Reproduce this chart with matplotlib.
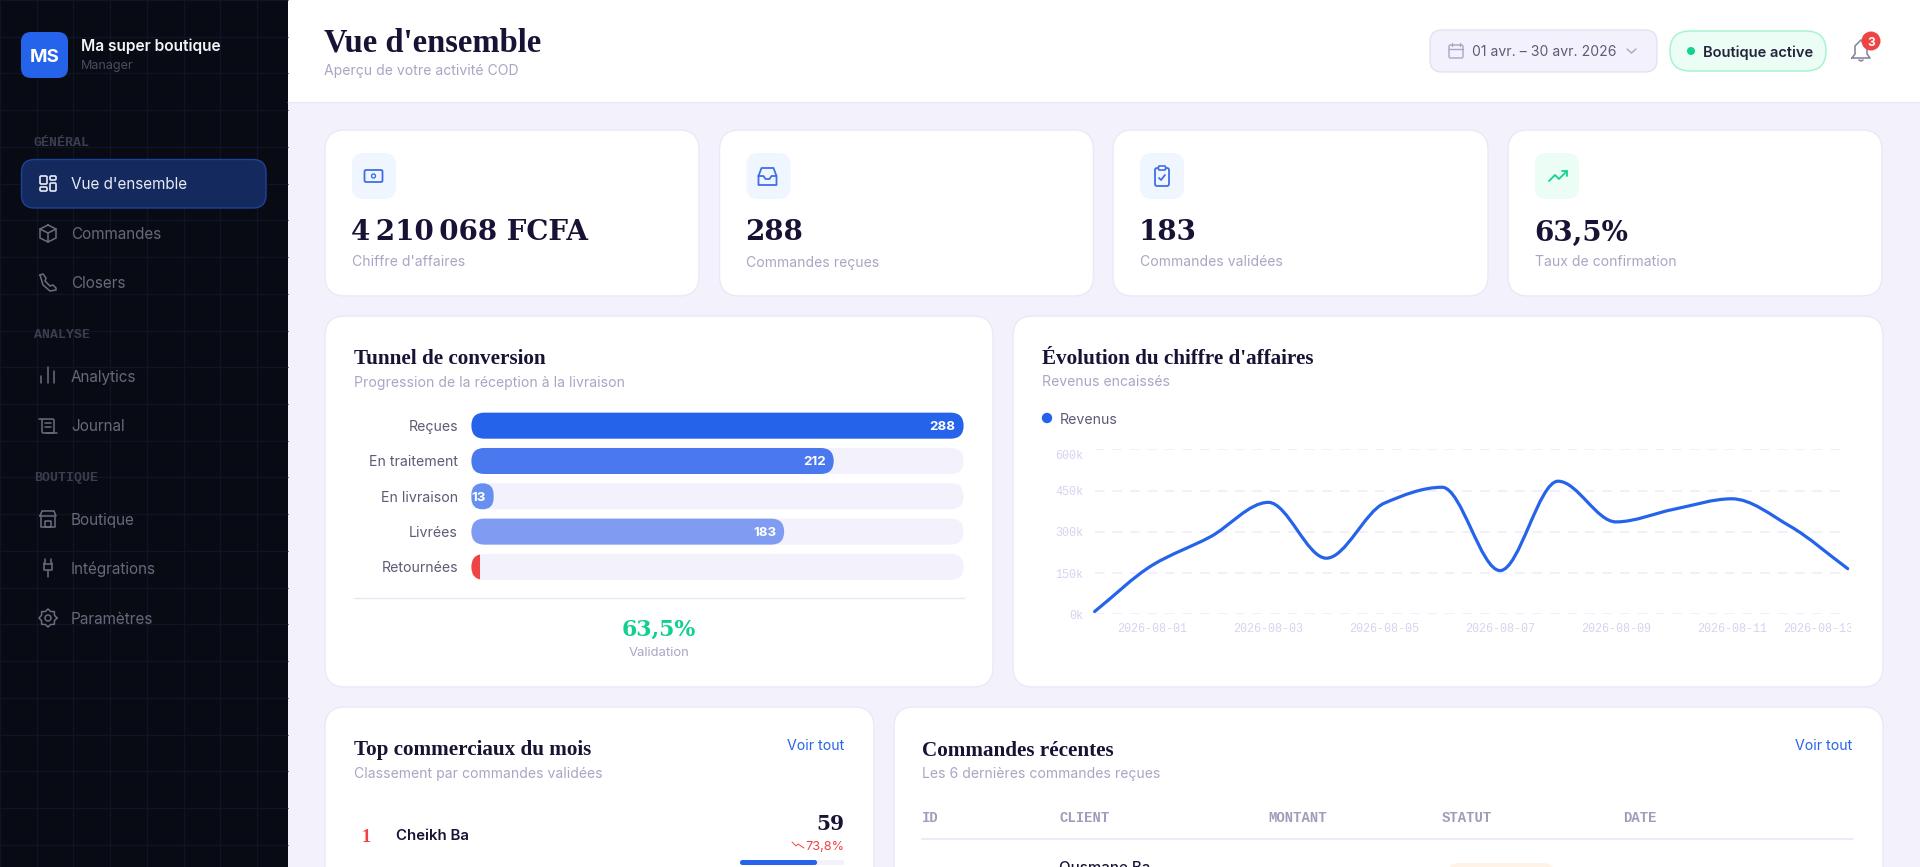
import matplotlib
matplotlib.use("Agg")
import matplotlib.pyplot as plt
import numpy as np
from matplotlib.patches import Circle, FancyBboxPatch, PathPatch, Rectangle
from matplotlib.path import Path
from matplotlib.transforms import Bbox, ScaledTranslation

W, H = 1920, 867

BODY = "Inter"
SERIF = "DejaVu Serif"
HEAD = "Liberation Serif"
MONO = "Liberation Mono"

INK = "#1a1235"
MUTED = "#a9a6c4"
BLUE = "#2563eb"
BORDER = "#eae8f6"
PAGE = "#f3f2fc"

# nav
nav_sections = ["GÉNÉRAL", "ANALYSE", "BOUTIQUE"]
nav_items = ["Vue d'ensemble", "Commandes", "Closers", "Analytics", "Journal",
             "Boutique", "Intégrations", "Paramètres"]

# kpi cards
kpi_values = ["4\u2009210\u2009068 FCFA", "288", "183", "63,5%"]
kpi_labels = ["Chiffre d'affaires", "Commandes reçues", "Commandes validées", "Taux de confirmation"]

# funnel
funnel_labels = ["Reçues", "En traitement", "En livraison", "Livrées", "Retournées"]
funnel_values = [288, 212, 13, 183, 5]
funnel_colors = ["#2563eb", "#4a78ee", "#6690f0", "#7f9cf2", "#ef4444"]

# revenue line
revenue_dates = ["2026-07-31", "2026-08-01", "2026-08-02", "2026-08-03", "2026-08-04",
                 "2026-08-05", "2026-08-06", "2026-08-07", "2026-08-08", "2026-08-09",
                 "2026-08-10", "2026-08-11", "2026-08-12", "2026-08-13"]
revenue_k = [10, 179, 282, 407, 204, 404, 462, 159, 484, 336, 382, 420, 321, 166]
revenue_ticks = [0, 150, 300, 450, 600]
date_tick_days = [1, 3, 5, 7, 9, 11, 13]

# bottom tables
table_headers = ["ID", "CLIENT", "MONTANT", "STATUT", "DATE"]
top_name = "Cheikh Ba"
top_count = 59
top_rate = 73.8

fig = plt.figure(figsize=(W / 100, H / 100), dpi=100, facecolor=PAGE)
ui = fig.add_axes([0, 0, 1, 1])
ui.set_xlim(0, W)
ui.set_ylim(H, 0)
ui.axis("off")


def box(x0, y0, x1, y1, r, fc, ec="none", lw=1.0, z=2):
    p = FancyBboxPatch((x0, y0), x1 - x0, y1 - y0, boxstyle=f"round,pad=0,rounding_size={r}",
                       fc=fc, ec=ec, lw=lw, zorder=z)
    ui.add_patch(p)
    return p


def label(x, y, s, size, color, family=BODY, weight="normal", ha="left", z=6):
    return ui.text(x, y, s, fontsize=size, color=color, family=family, weight=weight,
                   ha=ha, va="center_baseline", zorder=z)


def stroke(xs, ys, color, lw=1.1, z=6):
    ui.plot(xs, ys, color=color, lw=lw, solid_capstyle="round", solid_joinstyle="round", zorder=z)


def outline(x0, y0, x1, y1, r, color, lw=1.1, z=6):
    box(x0, y0, x1, y1, r, "none", ec=color, lw=lw, z=z)


def sub_axes(x0, y0, x1, y1):
    return fig.add_axes([x0 / W, 1 - y1 / H, (x1 - x0) / W, (y1 - y0) / H])


# --- sidebar
ui.add_patch(Rectangle((0, 0), 288, H, fc="#090b14", ec="none", zorder=1))
for gx in np.arange(0, 288, 36.73):
    ui.plot([gx, gx], [0, H], color="#0f1428", lw=0.8, solid_capstyle="butt", zorder=1.2)
for gy in np.arange(0, H, 36.73):
    ui.plot([0, 288], [gy, gy], color="#0f1428", lw=0.8, solid_capstyle="butt", zorder=1.2)

box(21, 32, 68, 78, 10, BLUE, z=3)
label(44.5, 55, "MS", 13.5, "white", weight="bold", ha="center")
label(81, 45, "Ma super boutique", 11.2, "#f2f3f8", weight="semibold")
label(81, 65, "Manager", 9, "#4a4d5e")

for yy, s in zip([141, 334, 477], nav_sections):
    label(34, yy, s, 9.5, "#3b3e4e", family=MONO, weight="bold")

box(21.5, 159.5, 266, 208, 13, "#14295e", ec="#1e4199", lw=1.0, z=3)
nav_y = [183, 233, 282, 376, 425, 519, 568, 618]
for i, (yy, s) in enumerate(zip(nav_y, nav_items)):
    label(71, yy, s, 11, "#e8ebf5" if i == 0 else "#666979")

ic = "#6a6d7d"
# grid icon
for (a, b, c, d) in [(40, 176, 47, 184), (50, 176, 56, 180), (40, 187, 47, 191), (50, 183, 56, 191)]:
    outline(a, b, c, d, 1.2, "#e8ebf5", lw=1.2)
# box icon
stroke([48, 56, 56, 48, 40, 40, 48], [225, 229, 238, 242, 238, 229, 225], ic)
stroke([40, 48, 56], [229, 233, 229], ic)
stroke([48, 48], [233, 242], ic)
# phone icon
stroke([40, 43, 46, 45, 50, 53, 56, 56, 50, 43, 40], [275, 274, 278, 281, 286, 285, 288, 290, 291, 285, 275], ic)
# bars icon
for bx, by in zip([41, 47.5, 54], [376, 367, 371]):
    stroke([bx, bx], [by, 383], ic)
# journal icon
outline(42, 419, 54, 433, 1.5, ic)
stroke([45, 51], [423, 423], ic)
stroke([45, 51], [427, 427], ic)
stroke([39, 42], [419, 419], ic)
stroke([46, 57], [433, 433], ic)
# shop icon
stroke([41, 41, 55, 55], [517, 527, 527, 517], ic)
stroke([40, 42, 54, 56, 40], [516, 511, 511, 516, 516], ic)
outline(45, 521, 51, 527, 0.5, ic)
# plug icon
stroke([44, 44, 52, 52], [563, 570, 570, 563], ic)
stroke([44, 52], [564, 564], ic)
stroke([48, 48], [570, 577], ic)
stroke([45, 45], [559, 563], ic)
stroke([51, 51], [559, 563], ic)
# gear icon
ui.add_patch(Circle((48, 618), 3, fc="none", ec=ic, lw=1.1, zorder=6))
ang = np.linspace(0, 2 * np.pi, 17)
rad = np.where(np.arange(17) % 2 == 0, 9, 7)
stroke(48 + rad * np.cos(ang), 618 + rad * np.sin(ang), ic)

# --- header
ui.add_patch(Rectangle((288, 0), W - 288, 102, fc="white", ec="none", zorder=1))
ui.plot([288, W], [102, 102], color=BORDER, lw=1.0, zorder=1.5)
label(324, 39, "Vue d'ensemble", 23.5, INK, family=HEAD, weight="bold")
label(324, 70, "Aperçu de votre activité COD", 10.1, MUTED)

box(1430, 30, 1657, 72, 12, PAGE, ec="#e3e1f2", lw=1.0)
outline(1449, 45, 1463, 58, 1.5, "#a9a6c4", lw=1.0)
stroke([1449, 1463], [49, 49], "#a9a6c4", lw=1.0)
stroke([1452, 1452], [43, 46], "#a9a6c4", lw=1.0)
stroke([1460, 1460], [43, 46], "#a9a6c4", lw=1.0)
label(1472, 51, "01 avr. – 30 avr. 2026", 10.1, "#5d5b76")
stroke([1627, 1631.5, 1636], [49, 53, 49], "#a9a6c4", lw=1.0)

box(1670, 31, 1826, 71, 20, "#ecfdf5", ec="#a7f3d0", lw=1.1)
ui.add_patch(Circle((1691, 51), 4, fc="#10d48f", ec="none", zorder=6))
label(1703, 51, "Boutique active", 10.6, "#23233b", weight="semibold")

stroke([1852, 1855, 1855, 1861, 1867, 1867, 1870, 1852], [58, 54, 46, 40, 46, 54, 58, 58], "#8a88a0", lw=1.2)
stroke([1859, 1861, 1863], [60, 61, 60], "#8a88a0", lw=1.2)
ui.add_patch(Circle((1871, 41), 9.5, fc="#ef4444", ec="none", zorder=7))
label(1871, 41, "3", 8.6, "white", weight="bold", ha="center", z=8)

# --- kpi cards
card_x = [(325, 699), (719.5, 1093.5), (1113, 1488), (1508, 1882)]
for i, ((x0, x1), val, lab) in enumerate(zip(card_x, kpi_values, kpi_labels)):
    box(x0, 130, x1, 296, 20, "white", ec=BORDER, lw=1.0)
    tint = "#ecfdf5" if i == 3 else "#eff6ff"
    box(x0 + 27, 153, x0 + 71, 199, 12, tint, z=3)
    label(x0 + 26, 230, val, 20, INK, family=SERIF, weight="bold")
    label(x0 + 27, 261, lab, 10.1, MUTED)

cx, cy = 373.5, 176
outline(cx - 9, cy - 6, cx + 9, cy + 6, 1.5, "#3f6fe8", lw=1.3)
ui.add_patch(Circle((cx, cy), 2, fc="none", ec="#3f6fe8", lw=1.0, zorder=6))
cx = 767.5
stroke([cx - 9, cx - 6, cx + 6, cx + 9, cx + 9, cx - 9, cx - 9], [cy, cy - 8, cy - 8, cy, cy + 9, cy + 9, cy], "#3f6fe8", lw=1.3)
stroke([cx - 9, cx - 4, cx - 2, cx + 2, cx + 4, cx + 9], [cy, cy, cy + 3, cy + 3, cy, cy], "#3f6fe8", lw=1.3)
cx = 1162
outline(cx - 7, cy - 8, cx + 7, cy + 10, 2, "#3f6fe8", lw=1.3)
box(cx - 3.5, cy - 10, cx + 3.5, cy - 6, 1, "white", ec="#3f6fe8", lw=1.2, z=7)
stroke([cx - 3, cx - 1, cx + 3], [cy + 2, cy + 4, cy - 1], "#3f6fe8", lw=1.3)
cx = 1558
stroke([cx - 9, cx - 3, cx + 1, cx + 9], [cy + 5, cy - 1, cy + 3, cy - 5], "#10d48f", lw=1.3)
stroke([cx + 4, cx + 9, cx + 9], [cy - 5, cy - 5, cy], "#10d48f", lw=1.3)

# --- funnel card
box(325, 316, 993, 687, 20, "white", ec=BORDER, lw=1.0)
label(354, 357, "Tunnel de conversion", 15.2, INK, family=HEAD, weight="bold")
label(354, 381, "Progression de la réception à la livraison", 10.1, MUTED)

ax_f = sub_axes(471.4, 408, 963.6, 584.6)
ax_f.set_xlim(0, 288)
n_rows = len(funnel_labels)
ax_f.set_ylim(n_rows - 0.5, -0.5)
ax_f.axis("off")
bar_h = 26 / 35.3
px_x = 492.2 / 288
aspect = px_x / 35.3
for i, (name, v, col) in enumerate(zip(funnel_labels, funnel_values, funnel_colors)):
    track = FancyBboxPatch((0, i - bar_h / 2), 288, bar_h,
                           boxstyle=f"round,pad=0,rounding_size={13 / px_x}", mutation_aspect=aspect,
                           fc=PAGE, ec="none", zorder=1)
    ax_f.add_patch(track)
    width_px = v * px_x
    if width_px < 13:
        b = ax_f.barh(i, v, height=bar_h, color=col, zorder=2)[0]
        b.set_clip_path(track)
    else:
        rr = min(13, width_px / 2) / px_x
        ax_f.add_patch(FancyBboxPatch((0, i - bar_h / 2), v, bar_h,
                                      boxstyle=f"round,pad=0,rounding_size={rr}", mutation_aspect=aspect,
                                      fc=col, ec="none", zorder=2))
        t = ax_f.text(v - 8 / px_x, i, str(v), color="white", fontsize=9.6, family=BODY, weight="bold",
                      ha="right", va="center_baseline", zorder=3)
        if width_px < 40:
            # value wider than its bar: the web chart cuts it at the left edge
            t.set_clip_box(ax_f.bbox)
            t.set_clip_on(True)
    label(458, 425.7 + i * 35.3, name, 10.2, "#5d5b76", ha="right")

ui.plot([354, 964], [598, 598], color=BORDER, lw=1.0, zorder=3)
label(658.7, 627, "63,5%", 15.8, "#10d090", family=SERIF, weight="bold", ha="center")
label(658.7, 651, "Validation", 9.4, MUTED, ha="center")

# --- revenue card
box(1013, 316, 1883, 687, 20, "white", ec=BORDER, lw=1.0)
label(1042.5, 357, "Évolution du chiffre d'affaires", 15.2, INK, family=HEAD, weight="bold")
label(1042.5, 381, "Revenus encaissés", 10.1, MUTED)
ui.add_patch(Circle((1047, 418), 5.2, fc=BLUE, ec="none", zorder=6))
label(1060, 418, "Revenus", 10.2, "#5d5b76")

ax_r = sub_axes(1094.6, 449.3, 1847.7, 614.3)
ax_r.patch.set_alpha(0)
x = np.arange(len(revenue_dates), dtype=float)
y = np.array(revenue_k, dtype=float)
ax_r.set_xlim(x[0], x[-1])
ax_r.set_ylim(0, 600)
for side in ax_r.spines.values():
    side.set_visible(False)
ax_r.set_yticks(revenue_ticks)
ax_r.set_yticklabels([f"{v}k" for v in revenue_ticks], family=MONO, fontsize=8.5, color="#d6d3f0")
ax_r.set_xticks(date_tick_days)
ax_r.set_xticklabels([revenue_dates[d] for d in date_tick_days], family=MONO, fontsize=8.5, color="#d6d3f0")
ax_r.tick_params(length=0, axis="both")
ax_r.tick_params(axis="x", pad=6.5)
ax_r.tick_params(axis="y", pad=8)
ax_r.yaxis.grid(True, color="#f1effb", lw=1.4, linestyle=(0, (5, 4)))
ax_r.set_axisbelow(True)

# top label sits a few px under its gridline, last date is pushed back inside the card
top_lab = ax_r.get_yticklabels()[-1]
top_lab.set_transform(top_lab.get_transform() + ScaledTranslation(0, -5 / 100, fig.dpi_scale_trans))
last_lab = ax_r.get_xticklabels()[-1]
last_lab.set_transform(last_lab.get_transform() + ScaledTranslation(-30 / 100, 0, fig.dpi_scale_trans))
last_lab.set_clip_box(Bbox([[0, 0], [1851, H]]))
last_lab.set_clip_on(True)

# monotone cubic through the points, same look as the web chart's smooth line
slopes = np.diff(y) / np.diff(x)
tang = np.zeros_like(y)
tang[0], tang[-1] = slopes[0], slopes[-1]
for k in range(1, len(y) - 1):
    if slopes[k - 1] * slopes[k] > 0:
        tang[k] = 2 * slopes[k - 1] * slopes[k] / (slopes[k - 1] + slopes[k])
verts = [(x[0], y[0])]
codes = [Path.MOVETO]
for k in range(len(x) - 1):
    step = x[k + 1] - x[k]
    verts += [(x[k] + step / 3, y[k] + tang[k] * step / 3),
              (x[k + 1] - step / 3, y[k + 1] - tang[k + 1] * step / 3),
              (x[k + 1], y[k + 1])]
    codes += [Path.CURVE4] * 3
ax_r.add_patch(PathPatch(Path(verts, codes), fc="none", ec=BLUE, lw=2.3, clip_on=False, zorder=4,
                         capstyle="round", joinstyle="round"))

# --- bottom cards (cut by the window)
box(325, 707, 874, 960, 20, "white", ec=BORDER, lw=1.0)
label(354, 748, "Top commerciaux du mois", 15.2, INK, family=HEAD, weight="bold")
label(354, 772.7, "Classement par commandes validées", 10.1, MUTED)
label(844.5, 745, "Voir tout", 10.2, BLUE, ha="right")
label(366, 835, "1", 13, "#ef4444", family=HEAD, weight="bold", ha="center")
label(395.5, 835, top_name, 10.8, INK, weight="semibold")
label(844.5, 821.7, str(top_count), 14.5, INK, family=SERIF, weight="bold", ha="right")
label(844.5, 845.7, f"{top_rate:.1f}%".replace(".", ","), 9.2, "#ef4444", ha="right")
stroke([792, 796, 798, 804], [842, 846, 844, 848], "#ef4444", lw=0.7)
box(740, 860, 844.5, 865, 2.5, PAGE, z=3)
box(740, 860, 740 + 104.5 * top_rate / 100, 865, 2.5, BLUE, z=4)

box(894, 707, 1883, 960, 20, "white", ec=BORDER, lw=1.0)
label(922, 748, "Commandes récentes", 15.2, INK, family=HEAD, weight="bold")
label(922, 772.7, "Les 6 dernières commandes reçues", 10.1, MUTED)
label(1852.6, 745, "Voir tout", 10.2, BLUE, ha="right")
for hx, s in zip([922, 1059, 1268, 1442, 1623], table_headers):
    label(hx, 816.7, s, 10.1, "#a09db9", family=MONO, weight="bold")
ui.plot([922, 1853], [839, 839], color=BORDER, lw=1.2, zorder=3)
label(1059, 866, "Ousmane Ba", 10.8, INK, weight="medium")
box(1447, 863, 1555, 900, 12, "#fff3e8", z=3)

fig.savefig("out.png", dpi=100, facecolor=fig.get_facecolor())
